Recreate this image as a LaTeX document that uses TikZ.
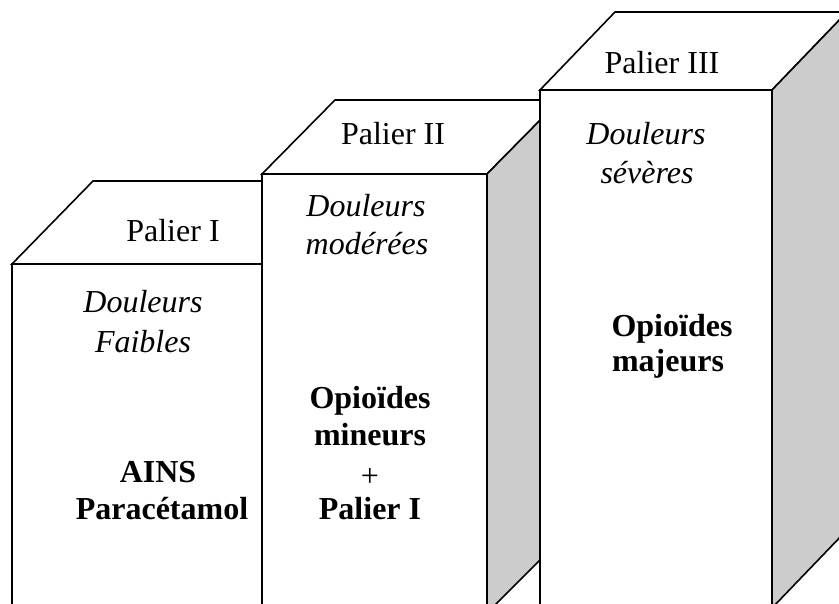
\documentclass[tikz,border=0pt]{standalone}
\usepackage{fontspec}
\setmainfont{Liberation Serif}
\definecolor{sidegray}{HTML}{CCCCCC}
\tikzset{
  face/.style={draw=black, line width=1.6pt, line join=miter, fill=white},
  sideface/.style={face, fill=sidegray},
  lbl/.style={anchor=base, inner sep=0pt, font=\fontsize{32}{38}\selectfont},
  ital/.style={anchor=base, inner sep=0pt, font=\fontsize{32}{38}\selectfont\itshape},
  bld/.style={anchor=base, inner sep=0pt, font=\fontsize{32}{38}\selectfont\bfseries}
}
\begin{document}
\begin{tikzpicture}[x=1pt, y=-1pt]
\useasboundingbox (0,0) rectangle (839,604);
\clip (0,0) rectangle (839,604);
% Box 1
\coordinate (a1) at (12,264);
\coordinate (b1) at (262,264);
\coordinate (c1) at (262,640);
\coordinate (d1) at (12,640);
\coordinate (e1) at (93,181);
\coordinate (f1) at (343,181);
\coordinate (g1) at (343,560);
\draw[face] (a1) -- (b1) -- (c1) -- (d1) -- cycle;
\draw[face] (a1) -- (e1) -- (f1) -- (b1) -- cycle;
\draw[sideface] (b1) -- (f1) -- (g1) -- (c1) -- cycle;
% Box 2
\coordinate (a2) at (262,174);
\coordinate (b2) at (487,174);
\coordinate (c2) at (487,613);
\coordinate (d2) at (262,640);
\coordinate (e2) at (335,100);
\coordinate (f2) at (560,100);
\coordinate (g2) at (560,540);
\draw[face] (a2) -- (b2) -- (c2) -- (487,640) -- (d2) -- cycle;
\draw[face] (a2) -- (e2) -- (f2) -- (b2) -- cycle;
\draw[sideface] (b2) -- (f2) -- (g2) -- (c2) -- cycle;
% Box 3
\coordinate (a3) at (540,90);
\coordinate (b3) at (772,90);
\coordinate (c3) at (772,608);
\coordinate (d3) at (540,640);
\coordinate (e3) at (615,12);
\coordinate (f3) at (847,12);
\coordinate (g3) at (847,530);
\draw[face] (a3) -- (b3) -- (c3) -- (772,640) -- (d3) -- cycle;
\draw[face] (a3) -- (e3) -- (f3) -- (b3) -- cycle;
\draw[sideface] (b3) -- (f3) -- (g3) -- (c3) -- cycle;
% Texts box 1
\node[lbl] (p1) at (173,242) {Palier I};
\node[ital] (d1a) at (143,313) {Douleurs};
\node[ital] (d1b) at (143,353) {Faibles};
\node[bld] (t1a) at (158,482) {AINS};
\node[bld] (t1b) at (162,519) {Paracétamol};
% Texts box 2
\node[lbl] (p2) at (393,145) {Palier II};
\node[ital] (d2a) at (366,217) {Douleurs};
\node[ital] (d2b) at (367,255) {modérées};
\node[bld] (t2a) at (370,409) {Opioïdes};
\node[bld] (t2b) at (370,446) {mineurs};
\node[lbl] (t2c) at (370,486) {+};
\node[bld] (t2d) at (370,519) {Palier I};
% Texts box 3
\node[lbl] (p3) at (662,74) {Palier III};
\node[ital] (d3a) at (646,145) {Douleurs};
\node[ital] (d3b) at (647,184) {sévères};
\node[bld] (t3a) at (672,337) {Opioïdes};
\node[bld] (t3b) at (668,372) {majeurs};
\end{tikzpicture}
\end{document}
